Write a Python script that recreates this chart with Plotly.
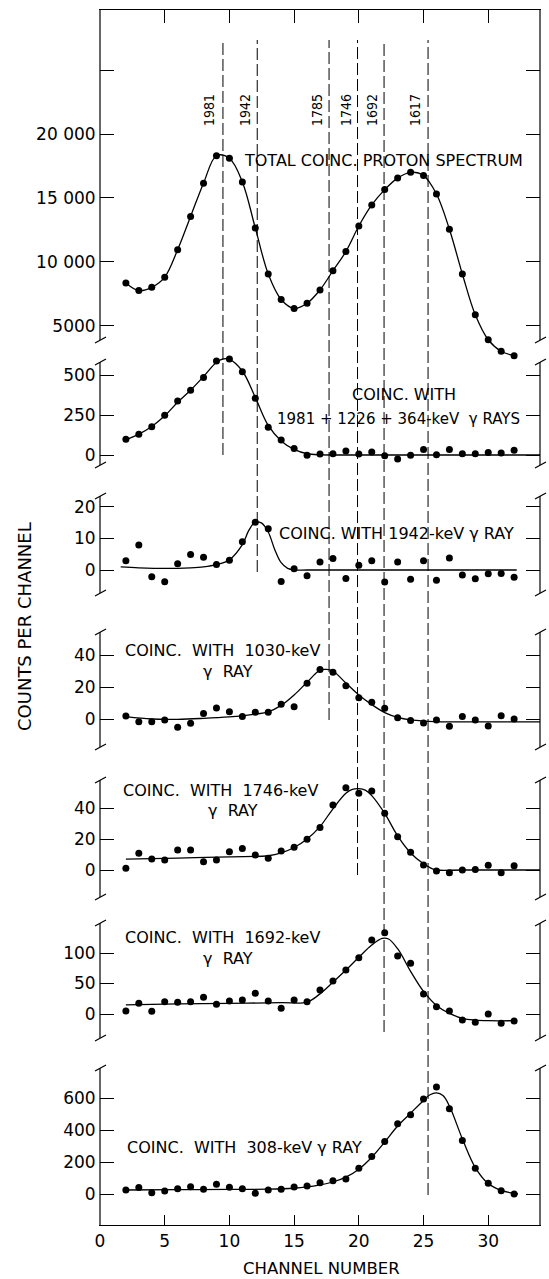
import plotly.graph_objects as go

# ---------------- data ----------------
channels = list(range(2, 33))

total_counts = [8350, 7750, 8000, 8800, 10950, 13550, 16150, 18300, 18100, 16250,
                12650, 9050, 7050, 6350, 6750, 7800, 9300, 10800, 12800, 14450,
                15650, 16550, 17000, 16750, 15300, 12550, 9050, 5850, 3900, 3000, 2650]

coinc_1981 = [98, 129, 177, 248, 337, 404, 485, 587, 600, 521, 354, 173, 94, 40, -2,
              6, 8, 25, 6, 19, -4, -25, -2, 35, 2, 35, 8, 8, 15, 12, 29]
fit_1981_x = [2, 3, 4, 5, 6, 7, 8, 9, 9.5, 10, 11, 12, 13, 14, 15, 16, 17, 18, 20, 26, 34]
fit_1981_y = [95, 130, 178, 245, 330, 405, 490, 580, 600, 598, 525, 360, 185, 88, 35, 8, 1, 0, 0, 0, 0]

coinc_1942 = [2.9, 7.9, -2.1, -3.7, 2.0, 4.9, 4.0, 1.7, 3.1, 8.9, 15.1, 13.0, -3.6, 0.4,
              -1.8, 2.5, 3.6, -2.7, 1.5, 2.9, -3.8, 2.5, -2.9, 2.9, -3.2, 3.8, -1.6,
              -2.8, -1.2, -1.1, -2.3]
fit_1942_x = [1.6, 3, 5, 7, 8, 9, 10, 11, 11.5, 12, 12.5, 13, 13.5, 14, 14.5, 15, 16, 20, 26, 32.2]
fit_1942_y = [1.0, 0.7, 0.5, 0.7, 1.0, 1.7, 3.2, 8.0, 12.5, 15.2, 14.8, 12.0, 6.5, 2.3, 0.5, 0, 0, 0, 0, 0]

coinc_1030 = [1.9, -1.7, -1.7, -0.6, -5.2, -2.7, 3.5, 6.9, 4.6, 1.5, 4.2, 4.2, 9.2, 7.7,
              22.3, 31.0, 29.2, 20.8, 13.3, 10.4, 6.7, 0.8, -1.0, -2.5, -0.6, -4.6, 1.5,
              -0.6, -4.4, 2.1, 0.0]
fit_1030_x = [2, 4, 6, 8, 10, 11, 12, 13, 14, 15, 16, 17, 17.5, 18, 19, 20, 21, 22, 23, 24, 25, 27, 30, 34]
fit_1030_y = [1.5, 0, -0.2, 0.4, 1.3, 2, 3, 4.5, 8.5, 15, 23, 30.5, 31, 30, 22.5, 15, 9, 4, 1, -0.6, -1.3, -1.8, -1.8, -1.8]

coinc_1746 = [1.1, 10.8, 7.1, 6.5, 12.9, 12.9, 5.4, 6.5, 11.8, 13.8, 9.7, 7.5, 12.3, 14.6,
              19.8, 27.5, 41.9, 53.1, 49.5, 51.0, 36.6, 21.5, 11.4, 3.2, -0.6, -1.7, 0.0,
              0.4, 3.0, -1.7, 2.8]
fit_1746_x = [2, 6, 10, 13, 14, 15, 16, 17, 18, 19, 19.5, 20, 20.5, 21, 22, 23, 24, 25, 25.5, 26, 28, 31, 34]
fit_1746_y = [7, 7.7, 8.5, 9.2, 11, 14.5, 20, 28, 39.5, 49.5, 52, 52.5, 51.5, 48, 36.5, 22, 11, 4, 1.5, 0, 0, 0, 0]

coinc_1692 = [4.9, 17.5, 4.4, 20.2, 19.1, 20.2, 27.3, 15.8, 21.3, 22.9, 33.9, 21.3, 9.3,
              22.9, 20.2, 39.3, 54.1, 72.1, 92.3, 121.3, 133.3, 95.1, 83.1, 32.8, 12.0,
              4.9, -9.8, -13.7, 0.0, -15.3, -11.5]
fit_1692_x = [2, 6, 10, 14, 16, 17, 18, 19, 20, 21, 21.8, 22.3, 23, 24, 25, 26, 27, 28, 29, 30, 32]
fit_1692_y = [15, 16.5, 17.5, 18.5, 19.5, 33, 52, 72, 93, 113, 124, 123, 107, 70, 37, 14, 1, -7, -10, -11, -11]

coinc_308 = [25, 40, 8, 19, 33, 46, 29, 61, 42, 33, 4, 25, 29, 44, 50, 71, 83, 94, 161,
             234, 328, 439, 495, 594, 669, 533, 334, 161, 67, 21, 0]
fit_308_x = [2, 6, 10, 13, 15, 16, 17, 18, 19, 20, 21, 22, 23, 24, 25, 25.5, 26, 26.5, 27, 28, 29, 30, 31, 32.3]
fit_308_y = [25, 27, 29, 30, 36, 44, 57, 75, 105, 155, 230, 325, 425, 505, 585, 620, 632, 615, 550, 345, 165, 65, 22, 0]

peak_channels = [9.5, 12.15, 17.7, 19.9, 21.95, 25.35]
peak_labels = ["1981", "1942", "1785", "1746", "1692", "1617"]

x_ticks = [0, 5, 10, 15, 20, 25, 30]
p1_ticks = [5000, 10000, 15000, 20000, 25000]
p1_ticktext = ["5000", "10 000", "15 000", "20 000", ""]
p2_ticks = [0, 250, 500]
p3_ticks = [0, 10, 20]
p4_ticks = [0, 20, 40]
p5_ticks = [0, 20, 40]
p6_ticks = [0, 50, 100]
p7_ticks = [0, 200, 400, 600]

# ---------------- layout geometry (pixels) ----------------
W, H = 549, 1279
ML, MR, MT, MB = 100, 9, 10, 54
PW = W - ML - MR
PH = H - MT - MB
BOT = H - MB


def fy(p):
    return (BOT - p) / PH


def fx(p):
    return (p - ML) / PW


FONT = "DejaVu Sans, sans-serif"
FONT_C = "DejaVu Sans Condensed, DejaVu Sans, sans-serif"

# (pix_a, val_a, pix_b, val_b, dom_top, dom_bot, line_top, line_bot)
panels = [
    (134.0, 20000, 325.7, 5000, 10, 360, 10, 340),
    (375.0, 500, 455.0, 0, 350, 480, 362, 465),
    (506.7, 20, 570.0, 0, 485, 610, 496, 593),
    (655.0, 40, 719.0, 0, 615, 760, 632, 747),
    (808.0, 40, 870.0, 0, 765, 905, 780, 897),
    (953.0, 100, 1014.0, 0, 910, 1050, 923, 1038),
    (1098.0, 600, 1194.0, 0, 1055, 1225, 1068, 1225),
]
peak_line_ends = [455, 572, 720, 875, 1032, 1195]
peak_label_x = [209, 245, 317, 346, 372, 415]

series = [
    (total_counts, channels, total_counts),
    (coinc_1981, fit_1981_x, fit_1981_y),
    (coinc_1942, fit_1942_x, fit_1942_y),
    (coinc_1030, fit_1030_x, fit_1030_y),
    (coinc_1746, fit_1746_x, fit_1746_y),
    (coinc_1692, fit_1692_x, fit_1692_y),
    (coinc_308, fit_308_x, fit_308_y),
]
tick_sets = [
    (p1_ticks, p1_ticktext),
    (p2_ticks, [str(v) for v in p2_ticks]),
    (p3_ticks, [str(v) for v in p3_ticks]),
    (p4_ticks, [str(v) for v in p4_ticks]),
    (p5_ticks, [str(v) for v in p5_ticks]),
    (p6_ticks, [str(v) for v in p6_ticks]),
    (p7_ticks, [str(v) for v in p7_ticks]),
]

fig = go.Figure()
layout = {}
shapes = []

for i, (pan, ser, tks) in enumerate(zip(panels, series, tick_sets)):
    pa, va, pb, vb, dt, db, lt, lb = pan
    slope = (vb - va) / (pb - pa)
    rng = [va + (db - pa) * slope, va + (dt - pa) * slope]
    yname = "y" if i == 0 else f"y{i+1}"
    xname = "x2" if i == 0 else "x"
    pts, fx_, fy_ = ser
    fig.add_trace(go.Scatter(x=fx_, y=fy_, xaxis=xname, yaxis=yname, mode="lines",
                             line=dict(color="black", width=1.3, shape="spline", smoothing=1.0),
                             hoverinfo="skip", showlegend=False))
    fig.add_trace(go.Scatter(x=channels, y=pts, xaxis=xname, yaxis=yname, mode="markers",
                             marker=dict(color="black", size=7), cliponaxis=False,
                             showlegend=False))
    key = "yaxis" if i == 0 else f"yaxis{i+1}"
    layout[key] = dict(
        domain=[fy(db), fy(dt)], range=rng, anchor=xname,
        tickvals=tks[0], ticktext=tks[1], ticks="inside", ticklen=14,
        tickcolor="black", tickwidth=1, mirror="ticks", showline=True,
        linecolor="rgba(0,0,0,0)", showgrid=False, zeroline=False,
        tickfont=dict(family=FONT, size=17, color="black"),
    )
    for xp in (0, 1):
        shapes.append(dict(type="line", xref="paper", yref="paper", x0=xp, x1=xp,
                           y0=fy(lb), y1=fy(lt), line=dict(color="black", width=1.2)))
    ends = []
    if i > 0:
        ends.append(lt)
    if i < len(panels) - 1:
        ends.append(lb)
    for e in ends:
        for xp in (0, 1):
            shapes.append(dict(type="line", xref="paper", xsizemode="pixel", xanchor=xp,
                               x0=-5, x1=6, yref="paper", ysizemode="pixel", yanchor=fy(e),
                               y0=-3, y1=3, line=dict(color="black", width=1.2)))

for ch, end in zip(peak_channels, peak_line_ends):
    shapes.append(dict(type="line", xref="x", yref="paper", x0=ch, x1=ch,
                       y0=fy(end), y1=fy(40),
                       line=dict(color="black", width=1, dash="12px,4px")))

layout["xaxis"] = dict(domain=[0, 1], range=[0, 34], anchor="y7", tickvals=x_ticks,
                       ticks="inside", ticklen=10, tickcolor="black", showline=True,
                       linecolor="black", linewidth=1.2, showgrid=False, zeroline=False,
                       tickfont=dict(family=FONT, size=17, color="black"))
layout["xaxis2"] = dict(domain=[0, 1], range=[0, 34], anchor="y", side="top",
                        tickvals=x_ticks[1:], ticks="inside", ticklen=13, tickcolor="black",
                        showticklabels=False, showline=True, linecolor="black", linewidth=1.2,
                        showgrid=False, zeroline=False)

ann = []


def text(t, xp, yp, anchor="left", size=16, angle=0, family=FONT):
    ann.append(dict(text=t, x=fx(xp), y=fy(yp), xref="paper", yref="paper",
                    xanchor=anchor, yanchor="middle", showarrow=False, textangle=angle,
                    font=dict(family=family, size=size, color="black")))


for lab, lx in zip(peak_labels, peak_label_x):
    text(lab, lx, 110, anchor="center", size=14, angle=-90, family=FONT_C)

S = "\u00a0"
text("TOTAL COINC. PROTON SPECTRUM", 242, 160)
text("COINC. WITH", 404, 394, anchor="center")
text("1981 + 1226 + 364-keV" + S + S + "γ RAYS", 398, 419, anchor="center", size=15)
text("COINC. WITH 1942-keV γ RAY", 277, 533)
text("COINC." + S + S + "WITH" + S + S + "1030-keV", 123, 650)
text("γ" + S + S + "RAY", 228, 671, anchor="center")
text("COINC." + S + S + "WITH" + S + S + "1746-keV", 121, 790)
text("γ" + S + S + "RAY", 233, 811, anchor="center")
text("COINC." + S + S + "WITH" + S + S + "1692-keV", 123, 937)
text("γ" + S + S + "RAY", 228, 958, anchor="center")
text("COINC." + S + S + "WITH" + S + S + "308-keV γ RAY", 125, 1147)
text("CHANNEL NUMBER", 321, 1268, anchor="center", size=16.5)
text("COUNTS PER CHANNEL", 25, 627, anchor="center", size=18, angle=-90)

fig.update_layout(
    width=W, height=H, margin=dict(l=ML, r=MR, t=MT, b=MB, pad=0),
    paper_bgcolor="white", plot_bgcolor="rgba(0,0,0,0)",
    shapes=shapes, annotations=ann, showlegend=False,
    font=dict(family=FONT, color="black"),
    **layout,
)

fig.write_html("out.html")
